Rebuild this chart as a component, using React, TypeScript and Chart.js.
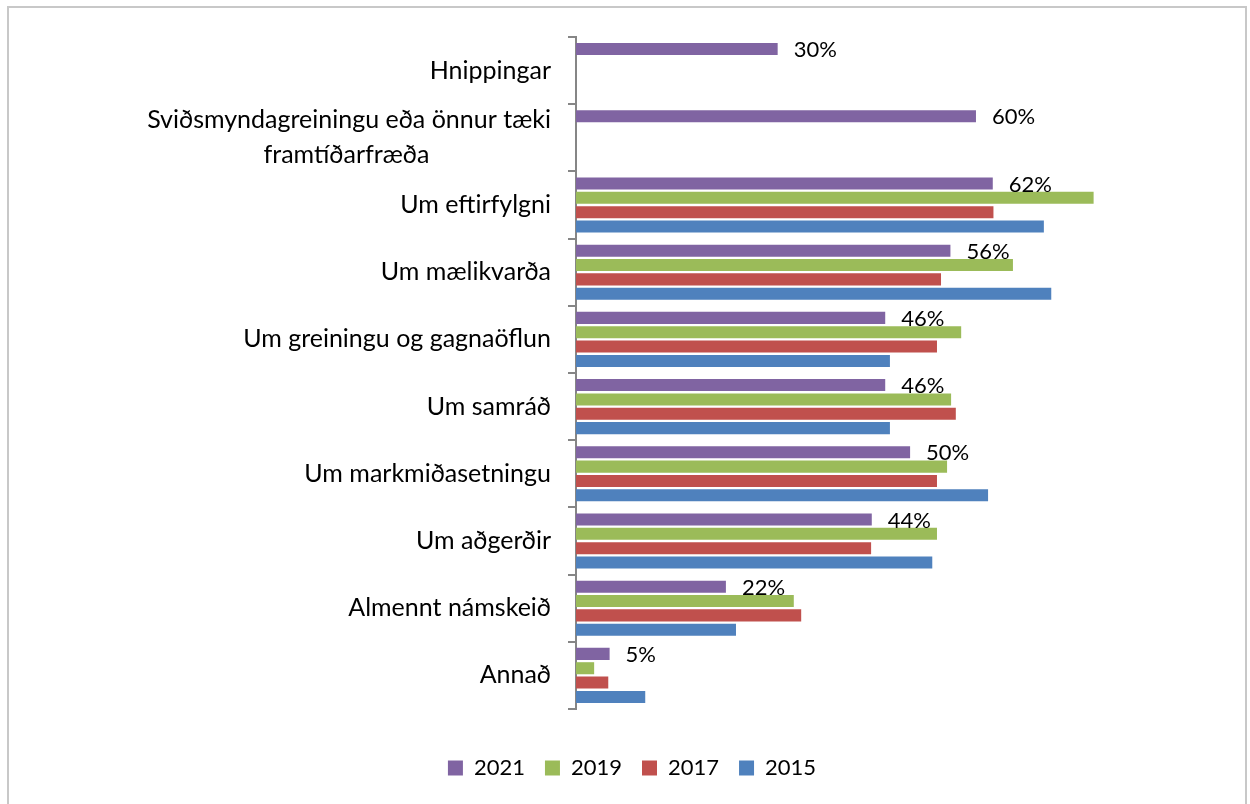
import React, { useEffect, useRef } from "react";
import { Chart, registerables } from "chart.js";

Chart.register(...registerables);

const categories: (string | string[])[] = [
  "Hnippingar",
  ["Sviðsmyndagreiningu eða önnur tæki", "framtíðarfræða" + " ".repeat(19)],
  "Um eftirfylgni",
  "Um mælikvarða",
  "Um greiningu og gagnaöflun",
  "Um samráð",
  "Um markmiðasetningu",
  "Um aðgerðir",
  "Almennt námskeið",
  "Annað",
];

const seriesNames = ["2021", "2019", "2017", "2015"];
const values2021 = [30, 59.5, 62, 55.7, 46, 46, 49.7, 44, 22.3, 5];
const values2019 = [null, null, 77, 65, 57.3, 55.8, 55.2, 53.7, 32.4, 2.7];
const values2017 = [null, null, 62.1, 54.3, 53.7, 56.5, 53.7, 43.9, 33.5, 4.8];
const values2015 = [null, null, 69.6, 70.7, 46.7, 46.7, 61.3, 53, 23.8, 10.3];
const colors = ["#8064A2", "#9BBB59", "#C0504D", "#4F81BD"];

const FONT = "Lato";

const frame = {
  id: "frame",
  beforeDraw(chart: any) {
    const ctx = chart.ctx;
    ctx.save();
    ctx.fillStyle = "#ffffff";
    ctx.fillRect(0, 0, chart.width, chart.height);
    ctx.strokeStyle = "#c8c8c8";
    ctx.lineWidth = 2;
    ctx.strokeRect(8, 7, 1238, 830);
    ctx.restore();
  },
};

const valueLabels = {
  id: "valueLabels",
  afterDatasetsDraw(chart: any) {
    const ctx = chart.ctx;
    const meta = chart.getDatasetMeta(0);
    ctx.save();
    ctx.font = `22px ${FONT}`;
    ctx.fillStyle = "#000";
    ctx.textAlign = "left";
    ctx.textBaseline = "middle";
    meta.data.forEach((el: any, i: number) => {
      const v = values2021[i];
      if (v == null) return;
      ctx.fillText(`${Math.round(v)}%`, el.x + 16, el.y + 1);
    });
    ctx.restore();
  },
};

export default function App() {
  const ref = useRef<HTMLCanvasElement | null>(null);

  useEffect(() => {
    document.body.style.margin = "0";
    if (!ref.current) return;
    const all = [values2021, values2019, values2017, values2015];
    const chart = new Chart(ref.current, {
      type: "bar",
      data: {
        labels: categories as any,
        datasets: seriesNames.map((name, i) => ({
          label: name,
          data: all[i] as any,
          backgroundColor: colors[i],
          borderWidth: 0,
          barPercentage: 0.84,
          categoryPercentage: 0.854,
        })),
      },
      options: {
        indexAxis: "y",
        responsive: false,
        animation: false,
        events: [],
        layout: { padding: { top: 37, right: 69, bottom: 15, left: 83 } },
        scales: {
          x: {
            min: 0,
            max: 90,
            display: true,
            grid: { display: false },
            border: { display: false },
            ticks: { display: false },
            afterFit: (s: any) => {
              s.height = 28;
            },
          },
          y: {
            type: "category",
            offset: true,
            grid: {
              display: true,
              drawOnChartArea: false,
              drawTicks: true,
              tickLength: 8,
              color: "#868686",
              lineWidth: 2,
              offset: true,
            },
            border: { display: true, color: "#868686", width: 2 },
            ticks: {
              autoSkip: false,
              color: "#000",
              padding: 17,
              font: { family: FONT, size: 25, lineHeight: 1.4 },
            },
            afterFit: (s: any) => {
              s.width = 493;
            },
          },
        },
        plugins: {
          legend: {
            display: true,
            position: "bottom",
            labels: {
              boxWidth: 15,
              boxHeight: 15,
              padding: 20,
              color: "#000",
              font: { family: FONT, size: 22 },
            },
          },
          tooltip: { enabled: false },
        },
      },
      plugins: [frame, valueLabels],
    });
    return () => chart.destroy();
  }, []);

  return (
    <div style={{ width: 1250, height: 804, position: "relative", overflow: "hidden" }}>
      <canvas ref={ref} width={1250} height={804} style={{ display: "block" }} />
    </div>
  );
}
